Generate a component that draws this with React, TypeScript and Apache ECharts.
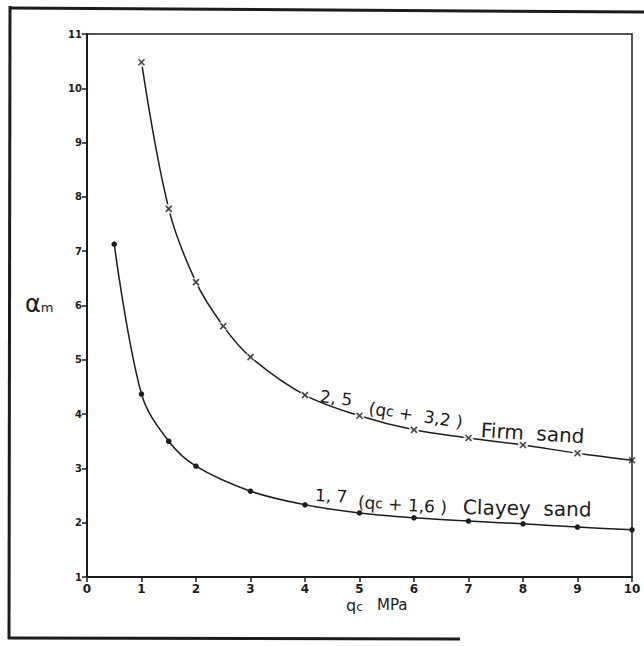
import React, { useEffect, useRef } from "react";
import * as echarts from "echarts";

const firmQc = [1, 1.5, 2, 2.5, 3, 4, 5, 6, 7, 8, 9, 10];
const firmAlpha = [10.48, 7.78, 6.43, 5.62, 5.05, 4.35, 3.97, 3.71, 3.56, 3.43, 3.28, 3.15];
const clayQc = [0.5, 1, 1.5, 2, 3, 4, 5, 6, 7, 8, 9, 10];
const clayAlpha = [7.13, 4.37, 3.5, 3.04, 2.58, 2.33, 2.18, 2.09, 2.03, 1.98, 1.92, 1.87];
const xTicks = [0, 10, 1];
const yTicks = [1, 11, 1];

const INK = "#1c1c1c";
const FONT = "DejaVu Sans";

export default function App() {
  const ref = useRef<HTMLDivElement>(null);
  useEffect(() => {
    if (!ref.current) return;
    const chart = echarts.init(ref.current, undefined, { renderer: "svg" });
    const firm = firmQc.map((x, i) => [x, firmAlpha[i]]);
    const clay = clayQc.map((x, i) => [x, clayAlpha[i]]);
    chart.setOption({
      animation: false,
      backgroundColor: "#fff",
      grid: {
        left: 87,
        right: 12,
        top: 34,
        bottom: 69,
        show: true,
        borderColor: INK,
        borderWidth: 1.5,
        backgroundColor: "transparent",
      },
      xAxis: {
        type: "value",
        min: xTicks[0],
        max: xTicks[1],
        interval: xTicks[2],
        splitLine: { show: false },
        axisLine: { lineStyle: { color: INK, width: 2 } },
        axisTick: { show: true, length: 5, lineStyle: { color: INK, width: 1.5 } },
        axisLabel: { color: INK, fontFamily: FONT, fontSize: 12, fontWeight: "bold", margin: 6 },
      },
      yAxis: {
        type: "value",
        min: yTicks[0],
        max: yTicks[1],
        interval: yTicks[2],
        splitLine: { show: false },
        axisLine: { show: true, lineStyle: { color: INK, width: 2 } },
        axisTick: { show: true, length: 5, lineStyle: { color: INK, width: 1.5 } },
        axisLabel: { color: INK, fontFamily: FONT, fontSize: 10, fontWeight: "bold", margin: 5 },
      },
      series: [
        {
          type: "line",
          data: firm,
          smooth: 0.35,
          showSymbol: false,
          lineStyle: { color: INK, width: 1.5 },
          z: 2,
        },
        {
          type: "scatter",
          data: firm.slice(0, -1),
          symbol: "circle",
          symbolSize: 10,
          itemStyle: { color: "#fff" },
          z: 3,
          silent: true,
        },
        {
          type: "scatter",
          data: firm,
          symbol: "path://M0,0L10,10M10,0L0,10",
          symbolSize: 6,
          itemStyle: { color: INK, borderColor: INK, borderWidth: 1.6 },
          z: 4,
        },
        {
          type: "line",
          data: clay,
          smooth: 0.35,
          symbol: "circle",
          symbolSize: 5.5,
          showSymbol: true,
          itemStyle: { color: INK, borderWidth: 0 },
          lineStyle: { color: INK, width: 1.5 },
          z: 4,
        },
      ],
      graphic: [
        { type: "line", shape: { x1: 10, y1: 6, x2: 9, y2: 639 }, style: { stroke: INK, lineWidth: 3 } },
        { type: "line", shape: { x1: 10, y1: 8, x2: 644, y2: 12 }, style: { stroke: INK, lineWidth: 3 } },
        { type: "line", shape: { x1: 8, y1: 638, x2: 460, y2: 639 }, style: { stroke: INK, lineWidth: 3 } },
        {
          type: "text",
          x: 25,
          y: 304,
          style: {
            text: "{a|α}{m|m}",
            verticalAlign: "middle",
            fill: INK,
            rich: {
              a: { fontSize: 24, fontFamily: FONT, fill: INK },
              m: { fontSize: 13, fontFamily: FONT, fill: INK, padding: [6, 0, 0, 0] },
            },
          },
        },
        {
          type: "text",
          x: 346,
          y: 605,
          style: {
            text: "{q|q}{c|c}{s|   MPa}",
            verticalAlign: "middle",
            rich: {
              q: { fontSize: 16, fontFamily: FONT, fill: INK },
              c: { fontSize: 12, fontFamily: FONT, fill: INK, padding: [3, 0, 0, 0] },
              s: { fontSize: 15, fontFamily: FONT, fill: INK },
            },
          },
        },
        {
          type: "text",
          x: 320,
          y: 396,
          rotation: -0.12,
          style: { text: "2, 5", fontSize: 17, fontFamily: FONT, fill: INK, verticalAlign: "middle" },
        },
        {
          type: "text",
          x: 369,
          y: 408,
          rotation: -0.15,
          style: {
            text: "{p|(q}{c|c}{p| +  3,2 )}",
            verticalAlign: "middle",
            rich: {
              p: { fontSize: 17, fontFamily: FONT, fill: INK },
              c: { fontSize: 14, fontFamily: FONT, fill: INK },
            },
          },
        },
        {
          type: "text",
          x: 481,
          y: 430,
          rotation: -0.06,
          style: { text: "Firm  sand", fontSize: 20, fontFamily: FONT, fill: INK, verticalAlign: "middle" },
        },
        {
          type: "text",
          x: 315,
          y: 495,
          rotation: -0.05,
          style: { text: "1, 7", fontSize: 17, fontFamily: FONT, fill: INK, verticalAlign: "middle" },
        },
        {
          type: "text",
          x: 358,
          y: 502,
          rotation: -0.06,
          style: {
            text: "{p|(q}{c|c}{p| + 1,6 )}",
            verticalAlign: "middle",
            rich: {
              p: { fontSize: 17, fontFamily: FONT, fill: INK },
              c: { fontSize: 14, fontFamily: FONT, fill: INK },
            },
          },
        },
        {
          type: "text",
          x: 463,
          y: 507,
          rotation: -0.02,
          style: { text: "Clayey  sand", fontSize: 20, fontFamily: FONT, fill: INK, verticalAlign: "middle" },
        },
      ],
    });
    return () => chart.dispose();
  }, []);
  return (
    <div
      ref={ref}
      style={{ position: "fixed", left: 0, top: 0, width: 644, height: 646, background: "#fff" }}
    />
  );
}
